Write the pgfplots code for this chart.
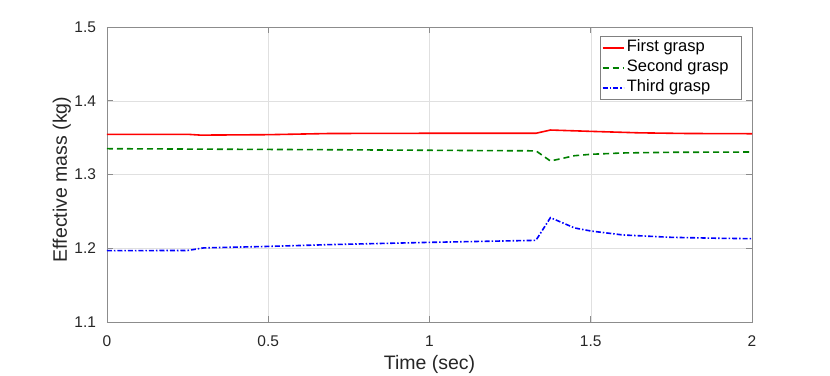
\documentclass[border=0pt]{standalone}
\usepackage{pgfplots}
\pgfplotsset{compat=1.18}
\usepackage{fontspec}
\setmainfont{Liberation Sans}
\begin{document}
\begin{tikzpicture}[x=1pt,y=1pt]
\path[use as bounding box] (-107,-53) rectangle (723,322);
\begin{axis}[
  at={(0,0)}, anchor=south west,
  scale only axis, width=645pt, height=295pt,
  xmin=0, xmax=2, ymin=1.1, ymax=1.5,
  xtick={0,0.5,1,1.5,2}, ytick={1.1,1.2,1.3,1.4,1.5},
  xticklabels={0,0.5,1,1.5,2},
  yticklabels={1.1,1.2,1.3,1.4,1.5},
  tick align=inside, major tick length=6pt,
  axis line style={draw=black!45, line width=0.6pt},
  tick style={draw=black!45, line width=0.6pt},
  grid=major, major grid style={draw=black!12, line width=0.5pt},
  ticklabel style={font=\fontsize{15.5}{17}\selectfont, text=black!85},
  xticklabel style={yshift=-10pt},
  yticklabel style={xshift=-7.5pt},
  xlabel={Time (sec)}, ylabel={Effective mass (kg)},
  label style={font=\fontsize{19.5}{21}\selectfont, text=black!85},
  xlabel style={at={(axis description cs:0.5,0)}, anchor=base, yshift=-47pt},
  ylabel style={at={(axis description cs:0,0.5)}, anchor=base, yshift=40pt, xshift=-5pt},
  legend style={at={(rel axis cs:0.9845,0.9695)}, anchor=north east,
    font=\fontsize{16.5}{18}\selectfont, draw=black!50, line width=0.6pt,
    inner sep=1.5pt, row sep=0pt, cells={anchor=west},
    nodes={inner sep=2.5pt, text height=11.5pt, text depth=3.5pt}},
  legend image code/.code={\draw[#1] (0pt,0pt) -- (21pt,0pt);},
  /pgf/number format/assume math mode=true,
]
\addplot[red, line width=1.6pt] coordinates {
(0,1.3545) (0.25,1.3545) (0.29,1.3534) (0.5,1.354) (0.69,1.3556) (1.0,1.3559)
(1.33,1.3559) (1.375,1.3603) (1.5,1.3585) (1.65,1.3565) (1.8,1.3556) (2,1.3553)};
\addlegendentry{First grasp}
\addplot[green!50!black, line width=1.6pt, dash pattern=on 6pt off 4pt] coordinates {
(0,1.335) (0.69,1.3336) (1.22,1.3323) (1.33,1.3321) (1.375,1.3183) (1.45,1.3255)
(1.5,1.3274) (1.6,1.3292) (1.75,1.3301) (2,1.3305)};
\addlegendentry{Second grasp\rule{9pt}{0pt}}
\addplot[blue, line width=1.6pt, dash pattern=on 5pt off 2pt on 1.5pt off 2pt] coordinates {
(0,1.1967) (0.25,1.197) (0.3,1.2005) (0.5,1.2025) (0.69,1.2049) (1.0,1.208)
(1.33,1.2107) (1.375,1.2415) (1.45,1.2275) (1.5,1.2234) (1.6,1.218) (1.75,1.2148)
(1.9,1.2135) (2,1.2130)};
\addlegendentry{Third grasp}
\end{axis}
\end{tikzpicture}
\end{document}
